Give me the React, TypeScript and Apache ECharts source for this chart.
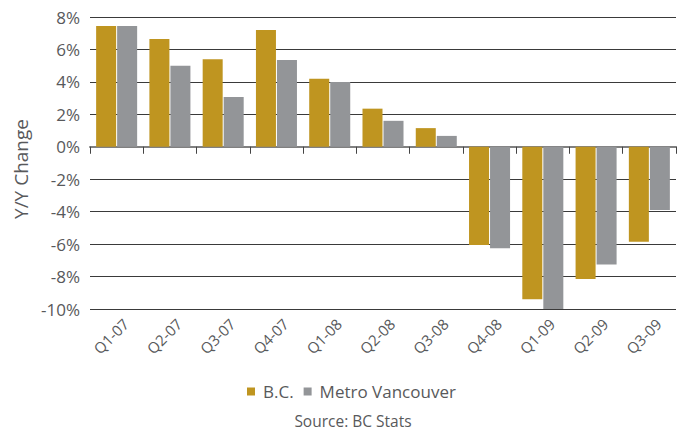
import React, { useEffect, useRef } from "react";
import * as echarts from "echarts";

const categories = ["Q1-07", "Q2-07", "Q3-07", "Q4-07", "Q1-08", "Q2-08", "Q3-08", "Q4-08", "Q1-09", "Q2-09", "Q3-09"];
const bcValues = [7.45, 6.65, 5.4, 7.2, 4.2, 2.35, 1.15, -6.05, -9.4, -8.15, -5.85];
const metroValues = [7.45, 5.0, 3.07, 5.35, 4.0, 1.6, 0.67, -6.25, -10.0, -7.25, -3.9];
const seriesNames = ["B.C.", "Metro Vancouver"];
const sourceText = "Source: BC Stats";
const yAxisName = "Y/Y Change";

const FONT = "'Open Sans', 'Noto Sans', sans-serif";
const TEXT = "#58595b";

export default function App() {
  const ref = useRef<HTMLDivElement>(null);
  useEffect(() => {
    document.body.style.margin = "0";
    const chart = echarts.init(ref.current!, null, { renderer: "svg" });
    chart.setOption({
      animation: false,
      textStyle: { fontFamily: FONT },
      grid: { left: 90, right: 5, top: 17, bottom: 123, containLabel: false },
      legend: {
        top: 383,
        left: 247,
        padding: 0,
        itemWidth: 8,
        itemHeight: 8,
        itemGap: 10,
        icon: "rect",
        textStyle: { fontSize: 17, color: TEXT, fontFamily: FONT, padding: [0, 0, 0, 3] },
        data: seriesNames,
      },
      graphic: [
        {
          type: "text",
          x: 353,
          y: 421,
          style: {
            text: sourceText,
            fontSize: 15.5,
            fill: TEXT,
            fontFamily: FONT,
            textAlign: "center",
            textVerticalAlign: "middle",
          },
        },
      ],
      xAxis: {
        type: "category",
        data: categories,
        axisLine: { onZero: true, lineStyle: { color: "#808080", width: 2 } },
        axisTick: { show: true, length: 7, lineStyle: { color: "#444" } },
        axisLabel: {
          rotate: 45,
          interval: 0,
          fontSize: 15,
          color: TEXT,
          fontFamily: FONT,
          margin: 3,
          verticalAlign: "top",
          lineHeight: 26,
        },
        position: "bottom",
      },
      yAxis: {
        type: "value",
        min: -10,
        max: 8,
        interval: 2,
        name: yAxisName,
        nameLocation: "middle",
        nameGap: 53,
        nameTextStyle: { fontSize: 19, color: TEXT, fontFamily: FONT, padding: [0, 12, 0, 0] },
        axisLabel: {
          formatter: "{value}%",
          fontSize: 17,
          color: TEXT,
          fontFamily: FONT,
          margin: 10,
        },
        axisLine: { show: false },
        axisTick: { show: false },
        splitLine: { lineStyle: { color: "#3a3a3a", width: 1 } },
      },
      series: [
        {
          name: seriesNames[0],
          type: "bar",
          data: bcValues,
          itemStyle: { color: "#BF9520" },
          barGap: "5%",
          barCategoryGap: "23%",
        },
        {
          name: seriesNames[1],
          type: "bar",
          data: metroValues,
          itemStyle: { color: "#939598" },
          barGap: "5%",
          barCategoryGap: "23%",
        },
      ],
    });
    return () => chart.dispose();
  }, []);
  return <div ref={ref} style={{ width: 681, height: 432 }} />;
}
